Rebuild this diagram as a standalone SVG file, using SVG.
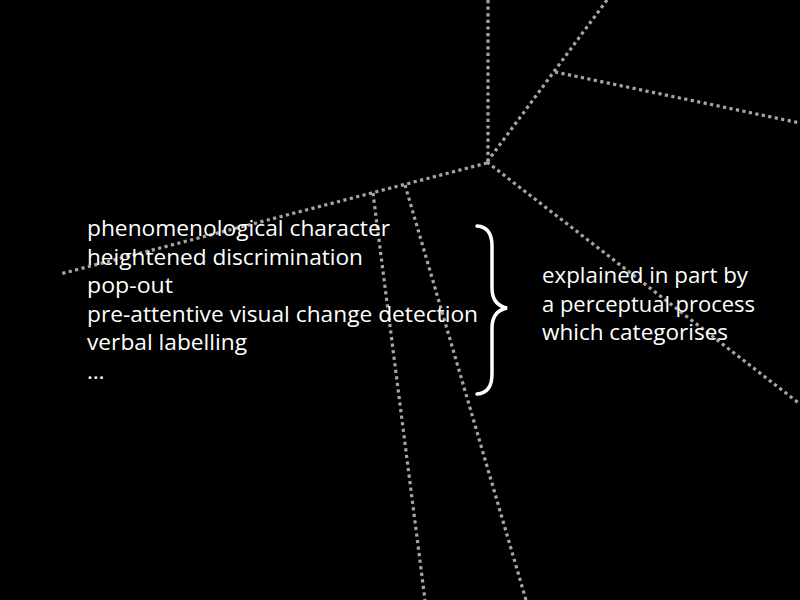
<svg xmlns="http://www.w3.org/2000/svg" width="800" height="600" viewBox="0 0 800 600">
<style>
.c{stroke:#a6a6a6;stroke-width:3.2;stroke-dasharray:3.2 3.4;fill:none}
.t{fill:#fff;font-family:"Open Sans","Noto Sans",sans-serif;font-size:22.5px}
.b{stroke:#fff;stroke-width:3.5;fill:none;stroke-linecap:round}
</style>
<rect width="800" height="600" fill="#000"/>
<g id="connectors">
<line class="c" x1="488" y1="0" x2="488" y2="162"/>
<line class="c" x1="607" y1="0" x2="487" y2="162"/>
<line class="c" x1="555" y1="72" x2="800" y2="123"/>
<line class="c" x1="487" y1="162" x2="800" y2="404"/>
<line class="c" x1="487" y1="163" x2="60" y2="274"/>
<line class="c" x1="373" y1="193" x2="425" y2="600"/>
<line class="c" x1="405" y1="185" x2="526" y2="600"/>
</g>
<g id="phenomena">
<text class="t" x="87" y="236" textLength="303" lengthAdjust="spacingAndGlyphs">phenomenological character</text>
<text class="t" x="87" y="265" textLength="276" lengthAdjust="spacingAndGlyphs">heightened discrimination</text>
<text class="t" x="87" y="293" textLength="86" lengthAdjust="spacingAndGlyphs">pop-out</text>
<text class="t" x="87" y="322" textLength="391" lengthAdjust="spacingAndGlyphs">pre-attentive visual change detection</text>
<text class="t" x="87" y="350" textLength="160" lengthAdjust="spacingAndGlyphs">verbal labelling</text>
<text class="t" x="87" y="379">…</text>
</g>
<g id="brace">
<path class="b" d="M477 226 Q492 227 492 246 L492 288 Q492 305 507 308 Q492 311 492 328 L492 374 Q492 393 477 394"/>
</g>
<g id="explanation">
<text class="t" x="542" y="283" textLength="206" lengthAdjust="spacingAndGlyphs">explained in part by</text>
<text class="t" x="542" y="312" textLength="213" lengthAdjust="spacingAndGlyphs">a perceptual process</text>
<text class="t" x="542" y="340" textLength="186" lengthAdjust="spacingAndGlyphs">which categorises</text>
</g>
</svg>
